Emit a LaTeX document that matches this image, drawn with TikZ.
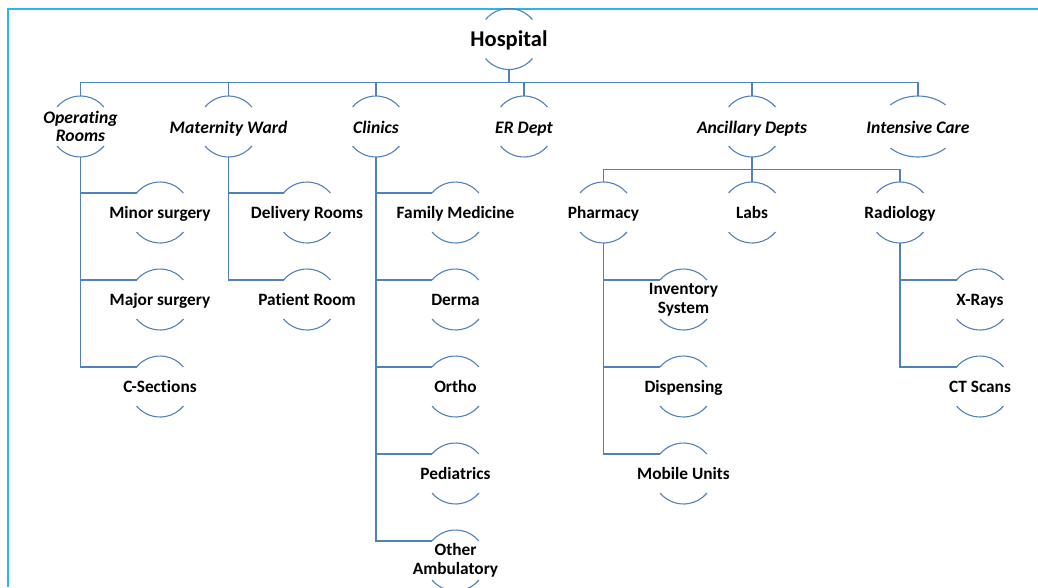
\documentclass[tikz,border=0pt]{standalone}
\usepackage{fontspec}
\setmainfont{Carlito}[Ligatures=NoCommon]
\usetikzlibrary{calc}
\definecolor{conncol}{RGB}{79,129,189}
\definecolor{framecol}{RGB}{41,182,235}
\begin{document}
\begin{tikzpicture}[x=1pt,y=1pt,
  box/.style={inner sep=0pt, minimum width=61pt, minimum height=61pt, align=center, text=black, font=\fontsize{17.3}{18.5}\selectfont\bfseries},
  one/.style={text height=13pt, text depth=0.6pt},
  toplevel/.style={box, font=\fontsize{17.6}{18.5}\selectfont\bfseries\itshape},
  root/.style={box, font=\fontsize{22.5}{26}\selectfont\bfseries, text height=15pt, text depth=1pt},
  conn/.style={draw=conncol, line width=1.4pt},
  arcline/.style={draw=conncol, line width=1.1pt},
  frameline/.style={draw=framecol, line width=2pt}]
\useasboundingbox (0,0) rectangle (1038,-587);
% frame
\draw[frameline] (8,-587) -- (8,-9) -- (1038,-9);
% nodes
\node[root] (hosp) at (509,-39) {Hospital};
\node[toplevel] (or)  at (80.5,-126.5) {Operating\\Rooms};
\node[toplevel,text height=15pt,text depth=2pt] (mw)  at (228.5,-126.5) {Maternity Ward};
\node[toplevel,text height=15pt,text depth=2pt] (cl)  at (376,-126.5) {Clinics};
\node[toplevel,text height=15pt,text depth=2pt] (er)  at (524,-126.5) {ER Dept};
\node[toplevel,text height=15pt,text depth=2pt] (anc) at (752,-126.5) {Ancillary Depts};
\node[toplevel,text height=15pt,text depth=2pt] (ic)  at (918,-126.5) {Intensive Care};
% operating rooms children
\node[box,one] (minor) at (160,-212.5) {Minor surgery};
\node[box,one] (major) at (160,-299.5) {Major surgery};
\node[box,one] (csec)  at (160,-386.5) {C-Sections};
% maternity children
\node[box,one] (deliv) at (307,-212.5) {Delivery Rooms};
\node[box,one] (pat)   at (307,-299.5) {Patient Room};
% clinics children
\node[box,one] (fam)   at (455.5,-212.5) {Family Medicine};
\node[box,one] (derma) at (455.5,-299.5) {Derma};
\node[box,one] (ortho) at (455.5,-386.5) {Ortho};
\node[box,one] (ped)   at (455.5,-473.5) {Pediatrics};
\node[box] (amb)   at (455.5,-560.5) {Other\\Ambulatory};
% ancillary children
\node[box,one] (pharm) at (603.5,-212.5) {Pharmacy};
\node[box,one] (labs)  at (752,-212.5) {Labs};
\node[box,one] (rad)   at (900,-212.5) {Radiology};
% pharmacy children
\node[box] (inv)  at (683.5,-299.5) {Inventory\\System};
\node[box,one] (disp) at (683.5,-386.5) {Dispensing};
\node[box,one] (mob)  at (683.5,-473.5) {Mobile Units};
% radiology children
\node[box,one] (xray) at (980,-299.5) {X-Rays};
\node[box,one] (ct)   at (980,-386.5) {CT Scans};
% arcs
\foreach \n in {hosp,or,mw,cl,er,anc,minor,major,csec,deliv,pat,fam,derma,ortho,ped,amb,pharm,labs,rad,inv,disp,mob,xray,ct}{
  \draw[arcline] ([shift={(140:30.5pt)}]\n.center) arc[start angle=140,end angle=40,radius=30.5pt];
  \draw[arcline] ([shift={(220:30.5pt)}]\n.center) arc[start angle=220,end angle=320,radius=30.5pt];
}
\draw[arcline] ([shift={(135:39pt and 30.5pt)}]ic.center) arc[start angle=135,end angle=45,x radius=39pt,y radius=30.5pt];
\draw[arcline] ([shift={(225:39pt and 30.5pt)}]ic.center) arc[start angle=225,end angle=315,x radius=39pt,y radius=30.5pt];
% connectors level 0 -> 1
\foreach \n in {or,mw,cl,er,anc,ic}{
  \draw[conn] (hosp.south) -- ++(0,-12.5) -| (\n.north);
}
% ancillary -> level 2
\foreach \n in {pharm,labs,rad}{
  \draw[conn] (anc.south) -- ++(0,-12) -| (\n.north);
}
% hanging children
\foreach \p/\c in {or/minor,or/major,or/csec,mw/deliv,mw/pat,cl/fam,cl/derma,cl/ortho,cl/ped,cl/amb,pharm/inv,pharm/disp,pharm/mob,rad/xray,rad/ct}{
  \draw[conn] (\p.south) |- ([shift={(140:30.5pt)}]\c.center);
}
\end{tikzpicture}
\end{document}
